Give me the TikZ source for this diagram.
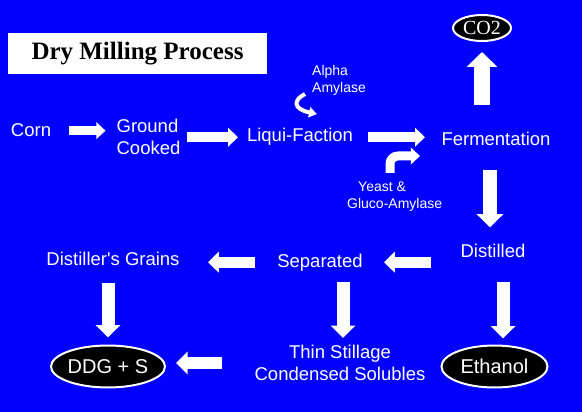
\documentclass[tikz,border=0pt]{standalone}
\usepackage{fontspec}
\setmainfont{Liberation Sans}
\newfontfamily\serifface{Liberation Serif}
\usepackage{xcolor}
\usetikzlibrary{arrows.meta,shapes.geometric,calc}
\definecolor{slideblue}{RGB}{0,0,252}

\begin{document}
\begin{tikzpicture}[x=1pt, y=-1pt,
    every node/.style = {text=white, font=\fontsize{18.5}{22}\selectfont},
    small/.style = {font=\fontsize{14}{17}\selectfont, align=left, inner sep=0pt},
    product/.style = {ellipse, draw=white, line width=2pt, fill=black, inner sep=0pt,
      minimum height=42pt, font=\fontsize{20}{24}\selectfont},
    blockarrow/.style = {draw=white, line width=#1,
      -{Triangle[width=0pt 1.85, length=2pt 0.8]}},
    hookarrow/.style = {draw=white, line width=4pt, -{Triangle[width=10pt, length=8pt]}}]
  \fill[slideblue] (0,0) rectangle (582,412);
  \useasboundingbox (0,0) rectangle (582,412);

  \node[fill=white, text=black, minimum width=259pt, minimum height=41pt,
    font=\serifface\bfseries\fontsize{25}{30}\selectfont] (title) at (137.5,53.5) {Dry Milling Process};

  % top row
  \node[anchor=base] (corn) at (31,137) {Corn};
  \node[align=left] (ground) at (148.5,137.25) {Ground\\Cooked};
  \node[anchor=base] (liqui) at (300,142) {Liqui-Faction};
  \node[anchor=base] (ferm) at (496,146) {Fermentation};
  \node[product, minimum width=58pt, minimum height=26pt,
    font=\serifface\fontsize{20}{24}\selectfont] (co2) at (482,28) {CO2};
  \node[small, anchor=west] (alpha) at (312,80) {Alpha\\Amylase};
  \node[small, anchor=north west] (yeast) at (347,182) {\hspace*{11pt}Yeast \&\\Gluco-Amylase};

  % lower rows
  \node[anchor=base] (distilled) at (493,257) {Distilled};
  \node[anchor=base] (separated) at (320,267) {Separated};
  \node[anchor=base] (grains) at (113,265) {Distiller\textquotesingle s Grains};
  \node[align=center] (thin) at (340,363) {Thin Stillage\\Condensed Solubles};
  \node[product, minimum width=110pt] (ddg) at (108,366.5) {DDG + S};
  \node[product, minimum width=106pt] (ethanol) at (494.5,366.5) {Ethanol};

  \coordinate (alphaend) at (317,114);
  \coordinate (yeastend) at (420,156);

  % arrows
  \draw[blockarrow=9pt, shorten <=38pt, shorten >=43pt] (corn.center) -- (corn.center -| ground.center);
  \draw[blockarrow=10pt, shorten <=38pt, shorten >=62pt] (ground.center) -- (ground.center -| liqui.center);
  \draw[blockarrow=10pt, shorten <=68pt, shorten >=71pt] (liqui.center) -- (liqui.center -| ferm.center);
  \draw[blockarrow=16pt, shorten <=34pt, shorten >=24pt] (co2.center |- ferm.center) -- (co2.center);
  \draw[blockarrow=14pt, shorten <=31pt, shorten >=23pt]
    ($(ferm.center)+(-6,0)$) -- ($(ferm.center |- distilled.center)+(-6,0)$);
  \draw[blockarrow=11pt, shorten <=62pt, shorten >=64pt] (separated.center -| distilled.center) -- (separated.center);
  \draw[blockarrow=11pt, shorten <=65pt, shorten >=95pt] (separated.center) -- (separated.center -| grains.center);
  \draw[blockarrow=13pt, shorten <=25pt, shorten >=29pt] (ddg.center |- grains.center) -- (ddg.center);
  \draw[blockarrow=13pt, shorten <=20pt, shorten >=25pt]
    ($(thin.center |- separated.center)+(3,0)$) -- ($(thin.center)+(3,0)$);
  \draw[blockarrow=13pt, shorten <=32pt, shorten >=28pt]
    ($(distilled.center)+(10,0)$) -- ($(distilled.center |- ethanol.center)+(10,0)$);
  \draw[blockarrow=12pt, shorten <=118pt, shorten >=68pt] (thin.center) -- (thin.center -| ddg.center);

  % enzyme arrows
  \draw[hookarrow] ([shift={(-7,14)}]alpha.west) .. controls +(-12,6) and +(-24,-5) .. (alphaend);
  \draw[blockarrow=9pt, rounded corners=8pt] ([shift={(43,-9)}]yeast.north west) |- (yeastend);
\end{tikzpicture}
\end{document}
